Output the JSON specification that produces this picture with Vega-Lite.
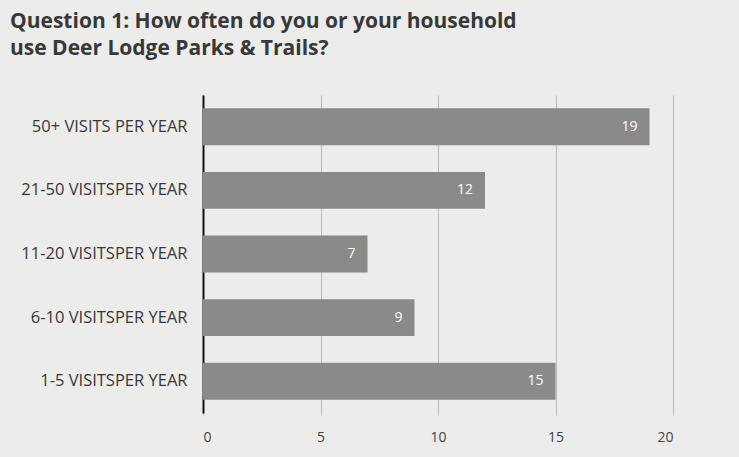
{
  "$schema": "https://vega.github.io/schema/vega-lite/v6.json",
  "width": 470,
  "height": 318,
  "autosize": {"type": "none"},
  "padding": {"left": 203, "top": 95, "right": 66, "bottom": 44},
  "background": "#ececea",
  "title": {
    "text": ["Question 1:  How often do you or your household", "use Deer Lodge Parks & Trails?"],
    "anchor": "start",
    "frame": "group",
    "dx": -193,
    "offset": 36,
    "font": "Open Sans",
    "fontSize": 21,
    "fontWeight": "bold",
    "color": "#383838",
    "lineHeight": 27
  },
  "config": {
    "view": {"stroke": null},
    "axis": {"labelFont": "Open Sans", "labelColor": "#444444", "labelFontSize": 14}
  },
  "data": {
    "values": [
      {"category": "50+ VISITS PER YEAR", "value": 19},
      {"category": "21-50 VISITSPER YEAR", "value": 12},
      {"category": "11-20 VISITSPER YEAR", "value": 7},
      {"category": "6-10 VISITSPER YEAR", "value": 9},
      {"category": "1-5 VISITSPER YEAR", "value": 15}
    ]
  },
  "encoding": {
    "y": {
      "field": "category",
      "type": "nominal",
      "sort": null,
      "scale": {"paddingInner": 0.42, "paddingOuter": 0.21},
      "axis": {
        "title": null,
        "ticks": false,
        "domainColor": "#111111",
        "domainWidth": 2,
        "labelPadding": 16,
        "labelFontSize": 16.5,
        "labelColor": "#383838"
      }
    },
    "x": {
      "field": "value",
      "type": "quantitative",
      "scale": {"domain": [0, 20]},
      "axis": {
        "title": null,
        "values": [0, 5, 10, 15, 20],
        "domain": false,
        "gridColor": "#b8b8b8",
        "tickColor": "#b8b8b8",
        "tickSize": 2,
        "labelFontSize": 14,
        "labelPadding": 15
      }
    }
  },
  "layer": [
    {"mark": {"type": "bar", "color": "#8a8a8a"}},
    {
      "mark": {"type": "text", "align": "right", "dx": -12, "color": "#ffffff", "font": "Open Sans", "fontSize": 14},
      "encoding": {"text": {"field": "value", "type": "quantitative"}}
    }
  ]
}
